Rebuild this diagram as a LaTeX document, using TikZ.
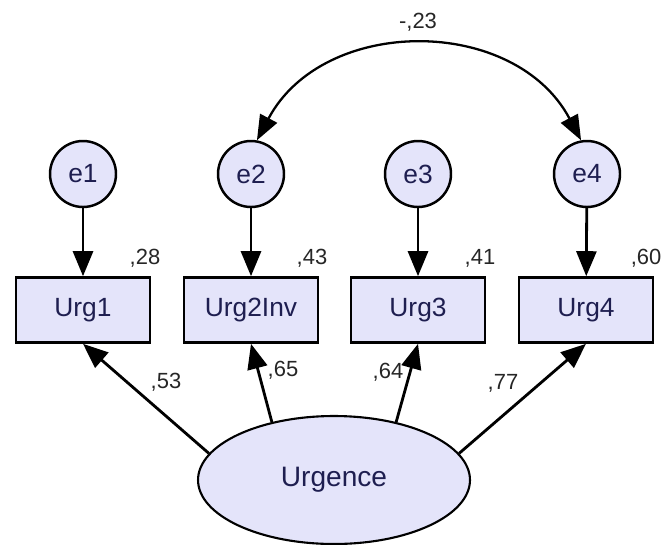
\documentclass[tikz,border=0pt]{standalone}
\usepackage{fontspec}
\setmainfont{Liberation Sans}
\usetikzlibrary{shapes.geometric,arrows.meta}

\definecolor{nodefill}{RGB}{228,228,250}
\definecolor{nodetext}{RGB}{30,30,80}

\tikzset{
  err/.style={circle, draw, line width=1.4pt, fill=nodefill, text=nodetext,
    minimum size=1.32cm, inner sep=0pt, font=\fontsize{15}{17}\selectfont},
  obs/.style={rectangle, draw, line width=1.5pt, fill=nodefill, text=nodetext,
    minimum width=2.68cm, minimum height=1.3cm, inner sep=0pt,
    font=\fontsize{15}{17}\selectfont},
  lat/.style={ellipse, draw, line width=1.2pt, fill=nodefill, text=nodetext,
    minimum width=5.44cm, minimum height=2.56cm, inner sep=0pt,
    font=\fontsize{16}{18}\selectfont},
  coef/.style={inner sep=0pt, text=black!85, font=\fontsize{12.5}{14}\selectfont},
  load/.style={-{Triangle[length=5mm,width=4mm]}, line width=1.6pt},
  cov/.style={{Triangle[length=5mm,width=3.8mm]}-{Triangle[length=5mm,width=3.8mm]}, line width=1.3pt}
}

\begin{document}
\begin{tikzpicture}[x=0.02cm, y=-0.02cm]
\useasboundingbox (0,0) rectangle (661,544);

% error terms
\node (e1) at (83,174) [err] {e1};
\node (e2) at (251,174) [err] {e2};
\node (e3) at (418,174) [err] {e3};
\node (e4) at (587,174) [err] {e4};

% indicators
\node (urg1) at (83,310) [obs] {Urg1};
\node (urg2) at (251,310) [obs] {Urg2Inv};
\node (urg3) at (418,310) [obs] {Urg3};
\node (urg4) at (586,310) [obs] {Urg4};

% latent factor
\node (urg) at (334,480) [lat] {Urgence};

\draw[load] (e1) -- (urg1);
\draw[load] (e2) -- (urg2);
\draw[load] (e3) -- (urg3);
\draw[load] (e4) -- (urg4);

\draw[load] (urg.168) -- (urg1.south);
\draw[load] (urg.137) -- (urg2.south);
\draw[load] (urg.43) -- (urg3.south);
\draw[load] (urg.12) -- (urg4.south);

\draw[cov] (e2.80) to[out=62,in=118,looseness=1.12] (e4.100);

% estimates
\node (r1) at (145,258) [coef] {,28};
\node (r2) at (312,258) [coef] {,43};
\node (r3) at (480,258) [coef] {,41};
\node (r4) at (646,258) [coef] {,60};

\node (l1) at (166,382) [coef] {,53};
\node (l2) at (283,370) [coef] {,65};
\node (l3) at (388,372) [coef] {,64};
\node (l4) at (503,383) [coef] {,77};

\node (c24) at (418,22) [coef] {-,23};
\end{tikzpicture}
\end{document}
